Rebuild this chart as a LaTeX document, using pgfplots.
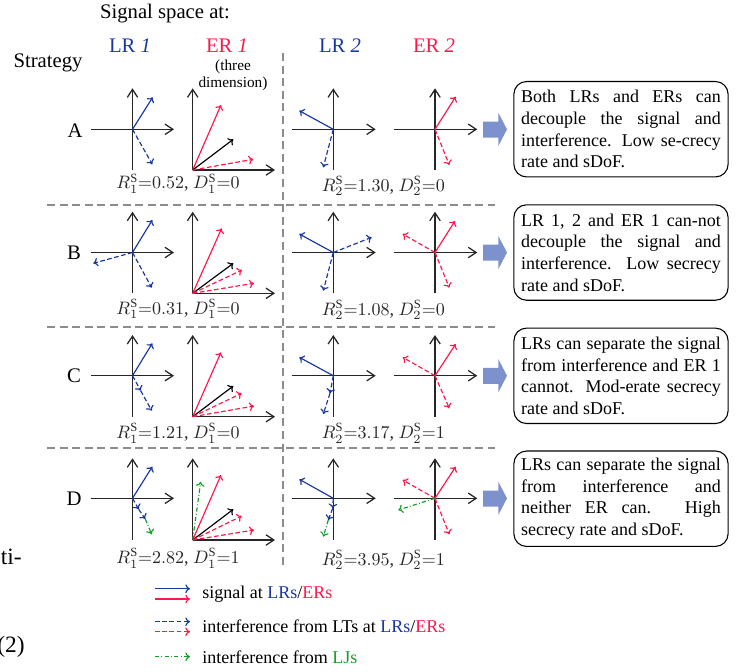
\documentclass[border=0pt]{standalone}
\usepackage{pgfplots}
\pgfplotsset{compat=1.18}
\usetikzlibrary{arrows.meta}
\usepackage{fontspec}
\setmainfont{Liberation Serif}
\definecolor{lrblue}{RGB}{25,55,160}
\definecolor{erred}{RGB}{255,25,75}
\definecolor{ljgreen}{RGB}{20,160,40}
\definecolor{blockblue}{RGB}{125,145,205}
\definecolor{sepgray}{RGB}{140,140,140}
\begin{document}
\begin{tikzpicture}[
  ax/.style={black!85, line width=0.7pt, -{Straight Barb[length=4.4pt,width=5.8pt]}},
  tip/.style={line width=0.65pt, -{To[length=2.6pt,width=4.8pt]}},
  dsh/.style={dash pattern=on 2.6pt off 1.4pt},
  sigB/.style={tip, lrblue},
  intB/.style={tip, lrblue, dsh},
  sigR/.style={tip, erred},
  intR/.style={tip, erred, dsh},
  sigK/.style={tip, black},
  lj/.style={tip, ljgreen, dash pattern=on 2.4pt off 1.2pt on 0.5pt off 1.2pt},
  sep/.style={sepgray, line width=0.6pt, dash pattern=on 4.4pt off 2.6pt},
  box/.style={draw=black, line width=0.6pt, rounded corners=7pt, text width=111pt,
    align=justify, inner xsep=4pt, inner ysep=3pt, minimum height=53pt, font=\fontsize{10}{12}\selectfont},
  head/.style={font=\fontsize{11.5}{13}\selectfont},
  rate/.style={black!85, font=\fontsize{10}{12}\selectfont}
]
\useasboundingbox (0,0) rectangle (415pt,372.78pt);
\begin{axis}[
  at={(0,0)}, anchor=south west,
  scale only axis, width=415pt, height=372.78pt,
  xmin=0, xmax=747, ymin=0, ymax=671,
  y dir=reverse, hide axis, clip=false, enlargelimits=false,
]
% separators
\addplot[sep] coordinates {(283,53) (283,567)};
\addplot[sep] coordinates {(47,205) (495,205)};
\addplot[sep] coordinates {(47,327) (495,327)};
\addplot[sep] coordinates {(47,448) (495,448)};

% ---------- row A ----------
\addplot[ax] coordinates {(132.5,170) (132.5,88.3)};
\addplot[ax] coordinates {(90.7,129.3) (174,129.3)};
\addplot[sigB] coordinates {(132.5,129.3) (152.7,97.3)};
\addplot[intB] coordinates {(132.5,129.3) (152.3,164.3)};
\addplot[ax] coordinates {(192.7,170) (192.7,88.3)};
\addplot[ax] coordinates {(192.7,170) (275,170)};
\addplot[sigR] coordinates {(192.7,170) (221,105)};
\addplot[sigK] coordinates {(192.7,170) (233.3,139.3)};
\addplot[intR] coordinates {(192.7,170) (253.3,159.3)};
\addplot[ax] coordinates {(333.3,170) (333.3,88.3)};
\addplot[ax] coordinates {(292.3,129.3) (375.7,129.3)};
\addplot[sigB] coordinates {(333.3,129.3) (299.3,110.7)};
\addplot[intB] coordinates {(333.3,129.3) (323.3,167.3)};
\addplot[ax] coordinates {(435,170) (435,88.3)};
\addplot[ax] coordinates {(394,129.3) (477.3,129.3)};
\addplot[sigR] coordinates {(435,129.3) (455.7,96.7)};
\addplot[intR] coordinates {(435,129.3) (449.3,165)};

% ---------- row B ----------
\addplot[ax] coordinates {(132.5,293.3) (132.5,211.7)};
\addplot[ax] coordinates {(90.7,252.5) (174,252.5)};
\addplot[sigB] coordinates {(132.5,252.5) (152.3,220)};
\addplot[intB] coordinates {(132.5,252.5) (93.3,263.3)};
\addplot[intB] coordinates {(132.5,252.5) (151.7,287.7)};
\addplot[ax] coordinates {(192.7,293.3) (192.7,211.7)};
\addplot[ax] coordinates {(192.7,293.3) (275,293.3)};
\addplot[sigR] coordinates {(192.7,293.3) (221.7,228.3)};
\addplot[sigK] coordinates {(192.7,293.3) (233.3,263.3)};
\addplot[intR] coordinates {(192.7,293.3) (242,270)};
\addplot[intR] coordinates {(192.7,293.3) (254,283.3)};
\addplot[ax] coordinates {(333.3,293.3) (333.3,211.7)};
\addplot[ax] coordinates {(292.3,252.5) (375.7,252.5)};
\addplot[sigB] coordinates {(333.3,252.5) (299.3,234)};
\addplot[intB] coordinates {(333.3,252.5) (371.7,237.3)};
\addplot[intB] coordinates {(333.3,252.5) (323.3,290.7)};
\addplot[ax] coordinates {(435,293.3) (435,211.7)};
\addplot[ax] coordinates {(394,252.5) (477.3,252.5)};
\addplot[sigR] coordinates {(435,252.5) (455,221)};
\addplot[intR] coordinates {(435,252.5) (402.7,234)};
\addplot[intR] coordinates {(435,252.5) (449.3,287.7)};

% ---------- row C ----------
\addplot[ax] coordinates {(132.5,416.7) (132.5,335)};
\addplot[ax] coordinates {(90.7,375.7) (174,375.7)};
\addplot[sigB] coordinates {(132.5,375.7) (152.3,343.3)};
\addplot[intB] coordinates {(132.5,375.7) (140.7,390.7)};
\addplot[intB] coordinates {(140.7,390.7) (151.7,410.7)};
\addplot[ax] coordinates {(192.7,416.7) (192.7,335)};
\addplot[ax] coordinates {(192.7,416.7) (275,416.7)};
\addplot[sigR] coordinates {(192.7,416.7) (221,352.3)};
\addplot[sigK] coordinates {(192.7,416.7) (233.3,386)};
\addplot[intR] coordinates {(192.7,416.7) (241.7,393.3)};
\addplot[intR] coordinates {(192.7,416.7) (254,406)};
\addplot[ax] coordinates {(333.3,416.7) (333.3,335)};
\addplot[ax] coordinates {(292.3,375.7) (375.7,375.7)};
\addplot[sigB] coordinates {(333.3,375.7) (299.3,357.3)};
\addplot[intB] coordinates {(333.3,375.7) (330,393.3)};
\addplot[intB] coordinates {(330,393.3) (323.3,414)};
\addplot[ax] coordinates {(435,416.7) (435,335)};
\addplot[ax] coordinates {(394,375.7) (477.3,375.7)};
\addplot[sigR] coordinates {(435,375.7) (455.7,344)};
\addplot[intR] coordinates {(435,375.7) (402.7,357.3)};
\addplot[intR] coordinates {(435,375.7) (449.3,408.3)};

% ---------- row D ----------
\addplot[ax] coordinates {(132.5,540) (132.5,458.3)};
\addplot[ax] coordinates {(90.7,498.3) (174,498.3)};
\addplot[sigB] coordinates {(132.5,498.3) (152.3,466.7)};
\addplot[intB] coordinates {(132.5,498.3) (138.7,509.3)};
\addplot[intB] coordinates {(138.7,509.3) (145.3,519)};
\addplot[lj] coordinates {(145.3,519) (151.7,534.3)};
\addplot[ax] coordinates {(192.7,540) (192.7,458.3)};
\addplot[ax] coordinates {(192.7,540) (275,540)};
\addplot[lj] coordinates {(192.7,540) (200.7,481.7)};
\addplot[sigR] coordinates {(192.7,540) (221,475)};
\addplot[sigK] coordinates {(192.7,540) (233.3,509.3)};
\addplot[intR] coordinates {(192.7,540) (241.7,516)};
\addplot[intR] coordinates {(192.7,540) (254,530)};
\addplot[ax] coordinates {(333.3,540) (333.3,458.3)};
\addplot[ax] coordinates {(292.3,498.3) (375.7,498.3)};
\addplot[sigB] coordinates {(333.3,498.3) (299.3,479.3)};
\addplot[intB] coordinates {(333.3,498.3) (332.7,508.3)};
\addplot[intB] coordinates {(332.7,508.3) (328.3,520)};
\addplot[lj] coordinates {(328.3,520) (323.3,536.7)};
\addplot[ax] coordinates {(435,540) (435,458.3)};
\addplot[ax] coordinates {(394,498.3) (477.3,498.3)};
\addplot[sigR] coordinates {(435,498.3) (455.7,466.7)};
\addplot[intR] coordinates {(435,498.3) (402.7,480)};
\addplot[lj] coordinates {(435,498.3) (398.3,510)};
\addplot[intR] coordinates {(435,498.3) (449.3,534.3)};

% block arrows
\addplot[fill=blockblue, draw=none] coordinates {(483,121.5) (498.3,121.5) (498.3,112.7) (507,129.3) (498.3,146) (498.3,137.5) (483,137.5)};
\addplot[fill=blockblue, draw=none] coordinates {(483,244.7) (498.3,244.7) (498.3,235.9) (507,252.5) (498.3,269.2) (498.3,260.7) (483,260.7)};
\addplot[fill=blockblue, draw=none] coordinates {(483,367.9) (498.3,367.9) (498.3,359.1) (507,375.7) (498.3,392.4) (498.3,383.9) (483,383.9)};
\addplot[fill=blockblue, draw=none] coordinates {(483,490.5) (498.3,490.5) (498.3,481.7) (507,498.3) (498.3,515) (498.3,506.5) (483,506.5)};

% legend
\addplot[sigB] coordinates {(155,588.7) (190,588.7)};
\addplot[sigR] coordinates {(155,599) (190,599)};
\addplot[intB] coordinates {(155,621.7) (190,621.7)};
\addplot[intR] coordinates {(155,631.7) (190,631.7)};
\addplot[lj] coordinates {(155,656.7) (190,656.7)};
\node[anchor=west, font=\fontsize{10}{12}\selectfont] at (196,594) {signal at \textcolor{lrblue}{LRs}/\textcolor{erred}{ERs}};
\node[anchor=west, font=\fontsize{10}{12}\selectfont] at (196,626.5) {interference from LTs at \textcolor{lrblue}{LRs}/\textcolor{erred}{ERs}};
\node[anchor=west, font=\fontsize{10}{12}\selectfont] at (196,657) {interference from \textcolor{ljgreen}{LJs}};

% headings
\node[head] at (165,14) {Signal space at:};
\node[head] at (48,63) {Strategy};
\node[head, lrblue] at (130,46) {LR \textit{1}};
\node[head, erred] at (227,46) {ER \textit{1}};
\node[head, lrblue] at (340,46) {LR \textit{2}};
\node[head, erred] at (434,46) {ER \textit{2}};
\node[align=center, font=\fontsize{8.5}{9.4}\selectfont] at (233,75.5) {(three\\dimension)};
\node[head] at (75,130.5) {A};
\node[head] at (74,252.5) {B};
\node[head] at (74,376) {C};
\node[head] at (74,499) {D};

% rates
\node[rate] at (178,183.5) {$R_1^{\mathrm{S}}{=}0.52$, $D_1^{\mathrm{S}}{=}0$};
\node[rate] at (383.3,186) {$R_2^{\mathrm{S}}{=}1.30$, $D_2^{\mathrm{S}}{=}0$};
\node[rate] at (178,309) {$R_1^{\mathrm{S}}{=}0.31$, $D_1^{\mathrm{S}}{=}0$};
\node[rate] at (383.3,310) {$R_2^{\mathrm{S}}{=}1.08$, $D_2^{\mathrm{S}}{=}0$};
\node[rate] at (178,433.3) {$R_1^{\mathrm{S}}{=}1.21$, $D_1^{\mathrm{S}}{=}0$};
\node[rate] at (383.3,433.3) {$R_2^{\mathrm{S}}{=}3.17$, $D_2^{\mathrm{S}}{=}1$};
\node[rate] at (178,558.3) {$R_1^{\mathrm{S}}{=}2.82$, $D_1^{\mathrm{S}}{=}1$};
\node[rate] at (383.3,560) {$R_2^{\mathrm{S}}{=}3.95$, $D_2^{\mathrm{S}}{=}1$};

% boxes
\node[box] at (621,129.2) {Both LRs and ERs can\linebreak decouple the signal and\linebreak interference. Low se-crecy\linebreak rate and sDoF.};
\node[box] at (621,252.5) {LR 1, 2 and ER 1 can-not\linebreak decouple the signal and\linebreak interference. Low secrecy\linebreak rate and sDoF.};
\node[box] at (621,375.8) {LRs can separate the signal\linebreak from interference and ER 1\linebreak cannot. Mod-erate secrecy\linebreak rate and sDoF.};
\node[box] at (621,498.7) {LRs can separate the signal\linebreak from interference and\linebreak neither ER can. High\linebreak secrecy rate and sDoF.};

% cropped text of the surrounding page
\node[anchor=east, font=\fontsize{13}{15}\selectfont] at (28,557) {ti-};
\node[anchor=east, font=\fontsize{13}{15}\selectfont] at (31,647) {(2)};
\end{axis}
\end{tikzpicture}
\end{document}
